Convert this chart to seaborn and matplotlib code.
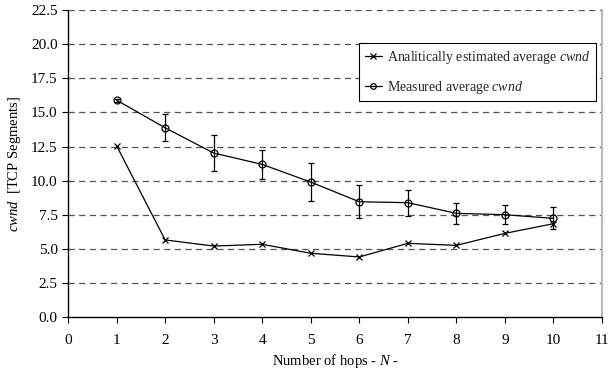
import numpy as np
import pandas as pd
import matplotlib
matplotlib.use("Agg")
import matplotlib.pyplot as plt
import seaborn as sns

hops = [1, 2, 3, 4, 5, 6, 7, 8, 9, 10]
estimated_cwnd = [12.55, 5.65, 5.2, 5.33, 4.67, 4.4, 5.4, 5.25, 6.13, 6.84]
measured_cwnd = [15.9, 13.87, 12.02, 11.19, 9.89, 8.45, 8.38, 7.6, 7.5, 7.23]
measured_err = [0.1, 1.0, 1.35, 1.08, 1.37, 1.2, 0.96, 0.78, 0.7, 0.8]
x_ticks = list(range(0, 12))
y_ticks = [0.0, 2.5, 5.0, 7.5, 10.0, 12.5, 15.0, 17.5, 20.0, 22.5]

sns.set_theme(style="white")
plt.rcParams["font.family"] = ["Liberation Serif", "DejaVu Serif"]
plt.rcParams["mathtext.fontset"] = "custom"
plt.rcParams["mathtext.rm"] = "Liberation Serif"
plt.rcParams["mathtext.it"] = "Liberation Serif:italic"

df = pd.DataFrame({
    "hops": hops * 2,
    "cwnd": estimated_cwnd + measured_cwnd,
    "series": ["est"] * len(hops) + ["meas"] * len(hops),
})

fig = plt.figure(figsize=(6.08, 3.76), dpi=100)
ax = fig.add_axes([0.112, 0.157, 0.878, 0.816])

# dashed horizontal gridlines
for yv in y_ticks[1:]:
    ax.axhline(yv, color="#555555", lw=0.9, ls=(0, (5, 3.5)), zorder=0)

ax.errorbar(hops, measured_cwnd, yerr=measured_err, fmt="none",
            ecolor="black", elinewidth=0.9, capsize=2, capthick=0.9, zorder=2)

sns.lineplot(data=df[df.series == "est"], x="hops", y="cwnd", ax=ax,
             color="black", lw=0.9, marker="x", markersize=5,
             markeredgecolor="black", markeredgewidth=0.9,
             label="Analitically estimated average $\\mathit{cwnd}$", zorder=3)
sns.lineplot(data=df[df.series == "meas"], x="hops", y="cwnd", ax=ax,
             color="black", lw=0.9, marker="o", markersize=5,
             markerfacecolor="none", markeredgecolor="black", markeredgewidth=0.9,
             label="Measured average $\\mathit{cwnd}$", zorder=3)

ax.set_xlim(0, 11)
ax.set_ylim(0, 22.5)
ax.set_xticks(x_ticks)
ax.set_yticks(y_ticks)
ax.set_yticklabels([f"{v:.1f}" for v in y_ticks])
ax.tick_params(axis="both", direction="out", length=4, width=0.8,
               labelsize=11, color="black", labelcolor="black",
               left=True, bottom=True)
ax.tick_params(axis="x", pad=8)

for side in ["left", "bottom"]:
    ax.spines[side].set_color("black")
    ax.spines[side].set_linewidth(1.0)
ax.spines["top"].set_visible(False)
ax.spines["right"].set_color("#bbbbbb")
ax.spines["right"].set_linewidth(1.5)

ax.set_xlabel("Number of hops - $\\mathit{N}$ -", fontsize=10.5, color="black", labelpad=4)
ax.set_ylabel("$\\mathit{cwnd}$  [TCP Segments]", fontsize=10.5, color="black", labelpad=6)

leg = ax.legend(loc="upper right", bbox_to_anchor=(0.989, 0.892), fontsize=10,
                frameon=True, fancybox=False, edgecolor="black", framealpha=1,
                handlelength=1.2, handletextpad=0.35, labelspacing=0.9,
                borderpad=0.42, borderaxespad=0, markerscale=0.8)
leg.get_frame().set_linewidth(0.8)

fig.savefig("out.png", dpi=100)
